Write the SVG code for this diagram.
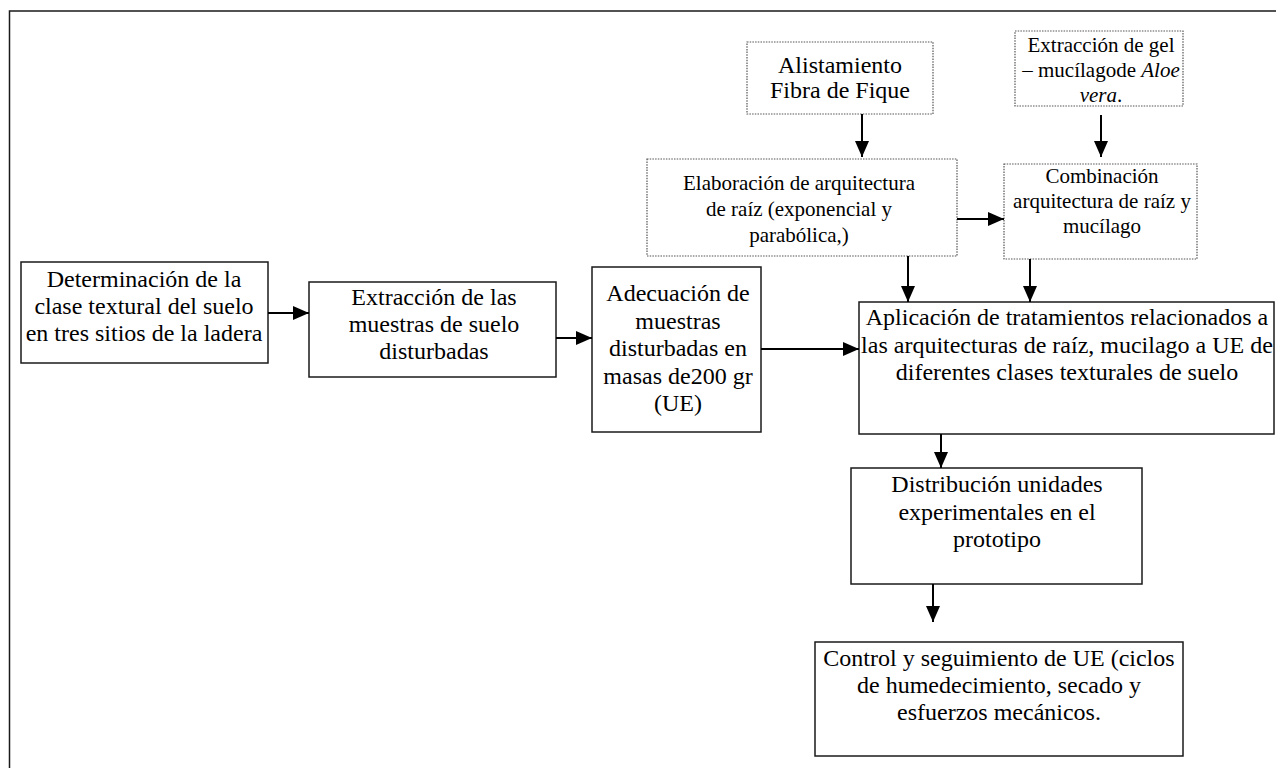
<svg xmlns="http://www.w3.org/2000/svg" width="1276" height="768" viewBox="0 0 1276 768">
<style>
.solid{fill:#fff;stroke:#1a1a1a;stroke-width:1.5}
.dot{fill:#fff;stroke:#555;stroke-width:1.2;stroke-dasharray:1.5 1.2}
.t{font-family:"Liberation Serif","Times New Roman",serif;fill:#000;text-anchor:middle}
.l{font-size:24px}
.s{font-size:21px}
.c line{stroke:#000;stroke-width:2;marker-end:url(#ah)}
</style>
<defs>
<marker id="ah" viewBox="0 0 16 14" refX="16" refY="7" markerWidth="16" markerHeight="14" orient="auto" markerUnits="userSpaceOnUse">
<path d="M0,0 L16,7 L0,14 Z" fill="#000"/>
</marker>
</defs>
<rect x="0" y="0" width="1276" height="768" fill="#fff"/>
<rect x="9.5" y="11" width="1300" height="800" fill="none" stroke="#1a1a1a" stroke-width="1.5"/>

<g id="n-determinacion">
<rect class="solid" x="21" y="262" width="247" height="101"/>
<text class="t l" x="144" y="287"><tspan x="144">Determinación de la</tspan><tspan x="144" dy="27">clase textural del suelo</tspan><tspan x="144" dy="27">en tres sitios de la ladera</tspan></text>
</g>
<g id="n-extraccion">
<rect class="solid" x="309" y="282" width="247" height="95"/>
<text class="t l" x="434" y="305"><tspan x="434">Extracción de las</tspan><tspan x="434" dy="27">muestras de suelo</tspan><tspan x="434" dy="27">disturbadas</tspan></text>
</g>
<g id="n-adecuacion">
<rect class="solid" x="592" y="267" width="169" height="165"/>
<text class="t l" x="678" y="301"><tspan x="678">Adecuación de</tspan><tspan x="678" dy="27.6">muestras</tspan><tspan x="678" dy="27.6">disturbadas en</tspan><tspan x="678" dy="27.6">masas de200 gr</tspan><tspan x="678" dy="27.6">(UE)</tspan></text>
</g>
<g id="n-alistamiento">
<rect class="dot" x="747" y="42" width="186" height="72"/>
<text class="t l" x="840" y="73"><tspan x="840">Alistamiento</tspan><tspan x="840" dy="25">Fibra de Fique</tspan></text>
</g>
<g id="n-gel">
<rect class="dot" x="1015" y="31" width="168" height="75"/>
<text class="t s" x="1101" y="52"><tspan x="1101">Extracción de gel</tspan><tspan x="1101" dy="25">– mucílagode <tspan font-style="italic">Aloe</tspan></tspan><tspan x="1101" dy="25"><tspan font-style="italic">vera</tspan>.</tspan></text>
</g>
<g id="n-elaboracion">
<rect class="dot" x="647" y="159" width="310" height="97"/>
<text class="t s" x="799" y="190"><tspan x="799">Elaboración de arquitectura</tspan><tspan x="799" dy="26">de raíz (exponencial y</tspan><tspan x="799" dy="26">parabólica,)</tspan></text>
</g>
<g id="n-combinacion">
<rect class="dot" x="1004" y="164" width="193" height="95"/>
<text class="t s" x="1102" y="183"><tspan x="1102">Combinación</tspan><tspan x="1102" dy="25">arquitectura de raíz y</tspan><tspan x="1102" dy="25">mucílago</tspan></text>
</g>
<g id="n-aplicacion">
<rect class="solid" x="859" y="302" width="415" height="132"/>
<text class="t l" x="1067" y="325"><tspan x="1067">Aplicación de tratamientos relacionados a</tspan><tspan x="1067" dy="27.5">las arquitecturas de raíz, mucilago a UE de</tspan><tspan x="1067" dy="27.5">diferentes clases texturales de suelo</tspan></text>
</g>
<g id="n-distribucion">
<rect class="solid" x="851" y="468" width="291" height="116"/>
<text class="t l" x="997" y="492"><tspan x="997">Distribución unidades</tspan><tspan x="997" dy="27.5">experimentales en el</tspan><tspan x="997" dy="27.5">prototipo</tspan></text>
</g>
<g id="n-control">
<rect class="solid" x="815" y="642" width="368" height="114"/>
<text class="t l" x="999" y="666"><tspan x="999">Control y seguimiento de UE (ciclos</tspan><tspan x="999" dy="27">de humedecimiento, secado y</tspan><tspan x="999" dy="27">esfuerzos mecánicos.</tspan></text>
</g>

<g id="connectors" class="c">
<line x1="268" y1="313" x2="309" y2="313"/>
<line x1="556" y1="338" x2="592" y2="338"/>
<line x1="761" y1="349" x2="859" y2="349"/>
<line x1="957" y1="219" x2="1004" y2="219"/>
<line x1="862" y1="114" x2="862" y2="157"/>
<line x1="1101" y1="115" x2="1101" y2="157"/>
<line x1="908" y1="256" x2="908" y2="302"/>
<line x1="1030" y1="259" x2="1030" y2="302"/>
<line x1="941" y1="434" x2="941" y2="468"/>
<line x1="933" y1="584" x2="933" y2="622"/>
</g>
</svg>
